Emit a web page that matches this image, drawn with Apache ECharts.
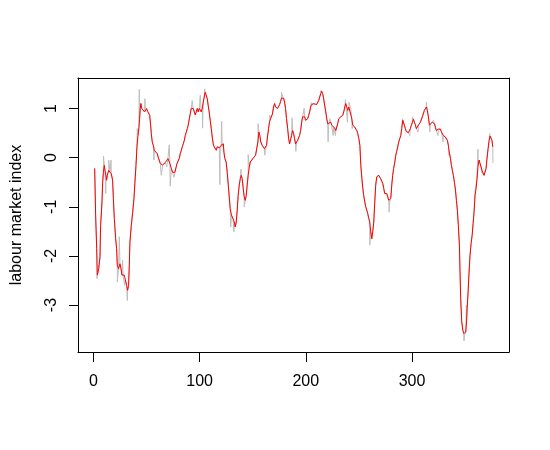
<!DOCTYPE html>
<html><head><meta charset="utf-8">
<script src="https://cdn.jsdelivr.net/npm/echarts@6/dist/echarts.min.js"></script>
<style>html,body{margin:0;padding:0;background:#fff}#c{width:550px;height:450px}</style>
</head><body><div id="c"></div>
<script>
const xTicks = [0, 100, 200, 300];
const yTicks = [-3, -2, -1, 0, 1];
const yName = 'labour market index';

// smoothed index (red)
const smoothed = [
[1.2,-0.22],[2.1,-1.17],[3.1,-1.85],[3.7,-2.39],[4.3,-2.41],[5.0,-2.26],[6.2,-2.02],[6.8,-1.38],[8.1,-0.90],[8.7,-0.50],[9.4,-0.30],[10.3,-0.16],[10.9,-0.26],[11.8,-0.36],[12.4,-0.46],[13.05,-0.36],[14.4,-0.26],[15.6,-0.30],[16.85,-0.33],[18.1,-0.46],[18.8,-0.83],[19.7,-1.24],[20.95,-1.65],[21.85,-1.85],[22.5,-2.19],[23.7,-2.26],[25.0,-2.16],[26.0,-2.26],[26.9,-2.39],[28.1,-2.43],[29.1,-2.39],[30.1,-2.49],[31.3,-2.60],[32.2,-2.70],[33.1,-2.60],[33.8,-2.19],[34.4,-1.72],[35.7,-1.38],[37.0,-1.11],[38.2,-0.83],[39.1,-0.50],[40.1,-0.16],[41.0,0.22],[42.0,0.45],[42.9,0.62],[43.5,0.79],[44.1,1.00],[44.7,1.10],[45.5,1.00],[46.4,0.96],[47.3,1.00],[48.2,0.93],[49.1,0.96],[50.1,1.00],[51.1,0.94],[52.0,0.93],[53.0,0.86],[53.9,0.66],[54.5,0.49],[55.4,0.32],[56.4,0.25],[57.4,0.15],[58.3,0.11],[59.2,0.11],[60.1,0.08],[61.0,0.01],[62.1,-0.02],[63.0,-0.12],[63.9,-0.16],[65.2,-0.15],[66.4,-0.12],[67.7,-0.10],[68.9,-0.08],[70.2,-0.02],[71.1,-0.02],[72.0,-0.12],[73.4,-0.22],[74.6,-0.30],[75.8,-0.33],[76.7,-0.30],[77.7,-0.21],[78.7,-0.12],[79.9,-0.10],[80.8,-0.02],[81.8,0.08],[82.8,0.15],[83.7,0.22],[84.6,0.28],[85.6,0.35],[86.5,0.45],[87.5,0.52],[88.4,0.59],[89.3,0.66],[90.3,0.79],[91.2,0.89],[92.1,1.00],[93.0,1.03],[94.0,1.00],[95.0,0.93],[95.9,0.87],[96.8,0.93],[97.8,1.00],[98.7,0.93],[99.7,1.00],[100.6,1.03],[101.5,0.93],[102.5,1.00],[103.4,1.13],[104.3,1.23],[105.3,1.33],[106.3,1.30],[107.2,1.20],[108.1,1.06],[109.0,0.93],[110.0,0.76],[111.0,0.59],[111.9,0.42],[112.8,0.28],[113.7,0.22],[114.7,0.18],[115.7,0.15],[116.6,0.22],[117.5,0.25],[118.5,0.20],[119.4,0.18],[120.3,0.25],[121.3,0.22],[122.3,0.28],
[122.9,0.11],[123.8,-0.02],[125.0,-0.09],[126.0,-0.30],[127.0,-0.56],[127.9,-0.80],[128.8,-1.04],[130.0,-1.17],[131.4,-1.24],[132.6,-1.31],[133.5,-1.41],[134.5,-1.31],[135.4,-1.07],[136.3,-0.77],[137.3,-0.56],[138.3,-0.43],[139.2,-0.36],[140.1,-0.43],[141.1,-0.63],[142.0,-0.80],[143.0,-0.87],[143.9,-0.77],[144.8,-0.56],[145.7,-0.36],[146.8,-0.19],[147.7,-0.09],[148.9,-0.05],[150.1,-0.02],[151.4,0.01],[152.7,0.05],[153.9,0.08],[154.9,0.32],[155.8,0.52],[156.7,0.45],[157.6,0.32],[158.9,0.25],[160.2,0.22],[161.1,0.18],[162.0,0.15],[163.0,0.25],[163.9,0.42],[164.9,0.59],[165.8,0.72],[166.8,0.79],[167.7,0.79],[168.6,0.89],[169.6,1.03],[170.6,1.10],[171.5,1.03],[172.4,1.00],[173.4,1.00],[174.4,1.03],[175.3,1.08],[176.2,1.14],[177.1,1.21],[178.1,1.25],[179.1,1.21],[180.0,1.13],[180.9,1.00],[181.8,0.79],[182.9,0.59],[183.8,0.39],[184.7,0.28],[185.6,0.32],[186.6,0.45],[187.6,0.55],[188.5,0.49],[189.4,0.39],[190.3,0.28],[191.3,0.32],[192.3,0.35],[193.2,0.39],[194.1,0.45],[195.1,0.55],[196.1,0.72],[197.0,0.83],[197.9,0.87],[198.9,0.83],[199.8,0.76],[200.8,0.76],[201.7,0.79],[202.7,0.86],[203.6,0.93],[204.5,1.03],[205.5,1.08],[206.4,1.07],[207.4,1.10],[208.3,1.08],[209.2,1.07],[210.2,1.08],[211.2,1.12],[212.1,1.16],[213.0,1.23],[214.0,1.30],[215.0,1.35],[215.9,1.30],[216.8,1.20],[217.7,1.07],[218.8,0.93],[219.7,0.79],[220.6,0.69],[221.5,0.66],[222.4,0.67],[223.5,0.72],[224.4,0.66],[225.3,0.62],[226.2,0.62],[227.3,0.60],[228.2,0.55],[229.1,0.58],[230.0,0.69],[231.0,0.79],[232.0,0.83],[232.9,0.83],[233.8,0.85],[234.8,0.86],[235.7,0.93],[236.7,1.03],[237.6,1.10],[238.5,1.07],[239.5,0.96],[240.5,1.03],[241.4,1.07],[242.3,1.00],[243.3,0.79],[244.2,0.66],[245.2,0.62],[246.1,0.62],[247.1,0.59],[248.0,0.55],[248.9,0.49],[249.9,0.39],
[250.9,0.25],[251.8,-0.16],[252.8,-0.43],[253.7,-0.63],[254.5,-0.77],[255.5,-0.90],[256.4,-1.00],[257.4,-1.07],[258.3,-1.14],[259.3,-1.24],[260.2,-1.31],[261.1,-1.51],[262.1,-1.65],[263.0,-1.51],[264.0,-1.31],[264.9,-0.90],[265.8,-0.56],[266.8,-0.39],[267.8,-0.35],[268.7,-0.36],[269.6,-0.39],[270.5,-0.43],[271.4,-0.46],[272.5,-0.53],[273.4,-0.63],[274.3,-0.73],[275.2,-0.77],[276.2,-0.73],[277.1,-0.77],[278.1,-0.87],[279.0,-0.90],[280.0,-0.83],[280.9,-0.56],[281.8,-0.36],[282.7,-0.22],[283.8,-0.09],[284.7,0.05],[285.6,0.13],[286.5,0.22],[287.5,0.32],[288.5,0.39],[289.4,0.45],[290.3,0.59],[291.3,0.76],[291.9,0.72],[292.8,0.66],[293.7,0.59],[294.6,0.53],[295.7,0.52],[296.6,0.51],[297.5,0.53],[298.4,0.59],[299.4,0.66],[300.4,0.72],[301.3,0.78],[302.2,0.72],[303.1,0.67],[304.1,0.59],[305.0,0.58],[306.0,0.66],[306.9,0.67],[307.9,0.72],[308.8,0.76],[309.7,0.83],[310.7,0.87],[311.6,0.96],[312.6,1.00],[313.5,1.03],[314.4,0.96],[315.4,0.83],[316.4,0.66],[317.3,0.69],[318.2,0.69],[319.1,0.72],[320.2,0.76],[321.1,0.69],[322.0,0.62],[322.9,0.55],[323.9,0.58],[324.8,0.58],[325.8,0.55],[326.7,0.58],[327.6,0.53],[328.6,0.49],[329.5,0.45],[330.4,0.42],[331.4,0.42],[332.4,0.42],[333.3,0.35],[334.2,0.25],[335.1,0.11],[336.2,-0.02],[337.1,-0.16],[338.0,-0.26],[338.9,-0.36],[339.9,-0.50],[340.9,-0.66],[341.8,-0.87],[342.7,-1.07],[343.6,-1.38],[344.6,-1.78],[345.2,-2.33],[345.8,-2.87],[346.8,-3.34],[347.8,-3.51],[348.7,-3.58],[349.6,-3.60],[350.6,-3.55],[351.3,-3.34],[351.9,-3.07],[352.8,-2.73],[353.7,-2.33],[354.6,-1.99],[355.6,-1.75],[356.6,-1.58],[357.5,-1.34],[358.4,-1.11],[359.3,-0.77],[360.3,-0.63],[361.2,-0.43],[362.2,-0.16],[363.1,-0.05],[364.1,-0.09],[365.0,-0.19],[365.9,-0.26],[366.9,-0.30],[367.8,-0.36],[368.8,-0.33],[369.7,-0.22],[370.6,-0.02],[371.6,0.18],[372.6,0.35],[373.5,0.44],[374.4,0.42],[375.3,0.35],[376.0,0.22]
];

// raw index (grey): points where it departs from the smoothed path
const rawSpikes = [
[3.4,-2.46],[9.5,0.03],[11.6,-0.73],[14.4,-0.05],[16.6,-0.05],[22.5,-2.53],[24.4,-1.61],[27.5,-2.09],[29.4,-2.60],[31.9,-2.91],[41.3,0.59],[43.2,1.39],[48.5,1.20],[57.0,-0.05],[63.9,-0.36],[69.0,-0.19],[71.4,0.26],[72.3,-0.58],[75.8,-0.40],[93.0,1.16],[100.6,1.27],[102.8,0.60],[104.7,1.40],[119.1,-0.55],[120.7,0.74],[129.3,-1.41],[132.3,-1.51],[138.9,-0.24],[142.0,-1.00],[145.7,0.06],[155.1,0.69],[161.4,0.05],[166.1,0.86],[177.1,1.33],[187.1,0.81],[190.6,0.13],[198.4,1.00],[205.3,1.12],[214.1,1.37],[221.0,0.32],[222.6,0.79],[225.7,0.45],[227.9,0.45],[237.3,1.18],[239.2,0.72],[240.7,1.13],[243.6,0.59],[260.2,-1.78],[278.4,-1.11],[291.0,0.79],[297.8,0.45],[300.4,0.83],[305.7,0.52],[313.5,1.13],[316.7,0.52],[324.5,0.45],[329.2,0.32],[334.8,0.05],[348.9,-3.73],[351.2,-3.00],[359.6,-0.66],[362.1,0.17],[365.6,-0.30],[368.1,-0.36],[373.1,0.49],[376.2,-0.11]
];

const raw = smoothed.concat(rawSpikes).sort((a, b) => a[0] - b[0]);

const FONT = 'Liberation Sans, Arial, sans-serif';
const black = '#000000';
const xMin = -14.5, xMax = 391.3, yMin = -3.955, yMax = 1.62;

const chart = echarts.init(document.getElementById('c'), null, {renderer: 'canvas'});
chart.setOption({
  animation: false,
  backgroundColor: '#ffffff',
  grid: {left: 78, top: 78, width: 431, height: 274, containLabel: false},
  xAxis: [{
    type: 'value', min: xMin, max: xMax, position: 'bottom',
    axisLine: {show: true, onZero: false, lineStyle: {color: black, width: 1}},
    axisTick: {show: true, inside: false, length: 10, customValues: xTicks, lineStyle: {color: black, width: 1}},
    axisLabel: {show: true, customValues: xTicks, margin: 22, fontSize: 16, color: black, fontFamily: FONT},
    splitLine: {show: false}
  }, {
    type: 'value', min: xMin, max: xMax, position: 'top',
    axisLine: {show: true, onZero: false, lineStyle: {color: black, width: 1}},
    axisTick: {show: false}, axisLabel: {show: false}, splitLine: {show: false}
  }],
  yAxis: [{
    type: 'value', min: yMin, max: yMax, position: 'left',
    name: yName, nameLocation: 'middle', nameGap: 53,
    nameTextStyle: {fontSize: 16, color: black, fontFamily: FONT},
    axisLine: {show: true, onZero: false, lineStyle: {color: black, width: 1}},
    axisTick: {show: true, inside: false, length: 9, customValues: yTicks, lineStyle: {color: black, width: 1}},
    axisLabel: {show: true, customValues: yTicks, rotate: 90, margin: 18, fontSize: 16, color: black, fontFamily: FONT},
    splitLine: {show: false}
  }, {
    type: 'value', min: yMin, max: yMax, position: 'right',
    axisLine: {show: true, onZero: false, lineStyle: {color: black, width: 1}},
    axisTick: {show: false}, axisLabel: {show: false}, splitLine: {show: false}
  }],
  series: [{
    name: 'raw', type: 'line', data: raw, xAxisIndex: 0, yAxisIndex: 0,
    showSymbol: false, symbol: 'none', silent: true,
    lineStyle: {color: '#BEBEBE', width: 1}, itemStyle: {color: '#BEBEBE'}, z: 2
  }, {
    name: 'smoothed', type: 'line', data: smoothed, xAxisIndex: 0, yAxisIndex: 0,
    showSymbol: false, symbol: 'none', silent: true,
    lineStyle: {color: '#FF0000', width: 1}, itemStyle: {color: '#FF0000'}, z: 3
  }]
});
</script>
</body></html>
